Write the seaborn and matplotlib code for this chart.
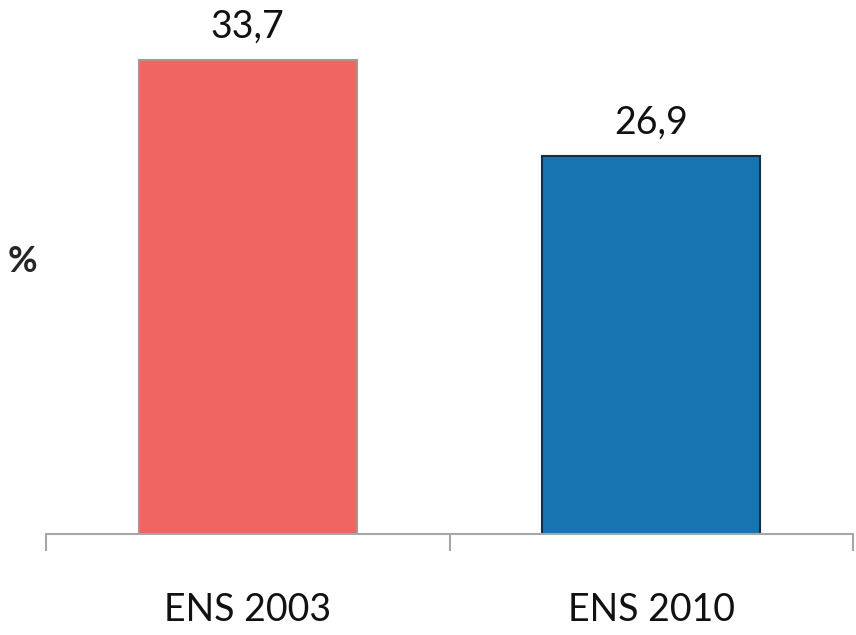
import matplotlib
matplotlib.use("Agg")
import matplotlib.pyplot as plt
import seaborn as sns
import pandas as pd

categories = ["ENS 2003", "ENS 2010"]
values = [33.7, 26.9]
labels = ["33,7", "26,9"]
colors = ["#F06461", "#1874B0"]
edges = ["#B88F8A", "#0E2F47"]

sns.set_theme(style="white")
plt.rcParams["font.family"] = ["Lato", "DejaVu Sans"]

df = pd.DataFrame({"survey": categories, "value": values})

fig = plt.figure(figsize=(8.56, 6.35), dpi=100)
ax = fig.add_axes([46 / 856, 101 / 635, (853 - 46) / 856, 534 / 635])

sns.barplot(data=df, x="survey", y="value", hue="survey", palette=colors,
            width=0.54, legend=False, ax=ax, saturation=1)
for patch, ec in zip(ax.patches, edges):
    patch.set_edgecolor(ec)
    patch.set_linewidth(1.5)

for i, (v, lab) in enumerate(zip(values, labels)):
    ax.text(i, v + 1.1, lab, ha="center", va="bottom", fontsize=27, color="#111111")

ax.set_xlim(-0.5, 1.5)
ax.set_ylim(0, 38.0)
ax.set_xlabel("")
ax.set_ylabel("")
ax.set_yticks([])
for s in ["top", "right", "left"]:
    ax.spines[s].set_visible(False)
ax.spines["bottom"].set_color("#A6A6A6")
ax.spines["bottom"].set_linewidth(1.5)
ax.set_xticks([-0.5, 0.5, 1.5], minor=True)
ax.tick_params(axis="x", which="minor", length=12, width=1.5, color="#A6A6A6", bottom=True)
ax.tick_params(axis="x", which="major", length=0, pad=42, labelsize=27, labelcolor="#111111")

fig.text(8 / 856, 1 - 262 / 635, "%", fontsize=26, fontweight="bold", va="center", ha="left")

fig.savefig("out.png", dpi=100)
